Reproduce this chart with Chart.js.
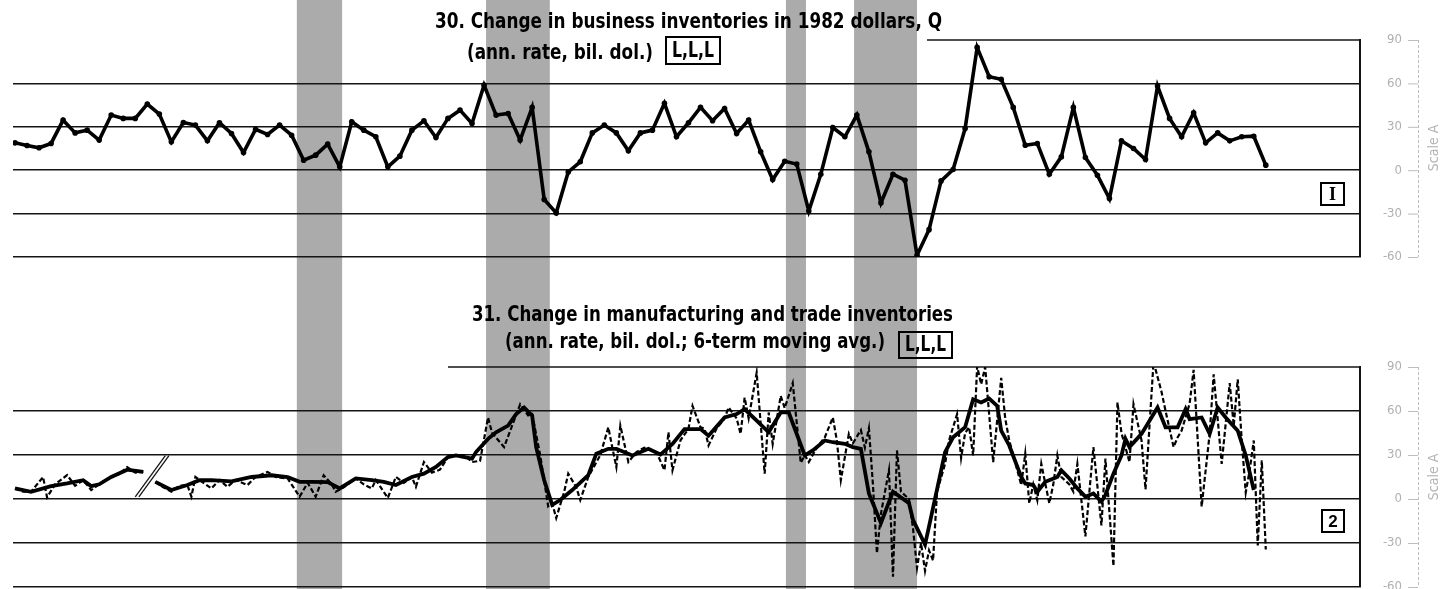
<!DOCTYPE html>
<html><head><meta charset="utf-8">
<script src="https://cdn.jsdelivr.net/npm/chart.js@4.4.1/dist/chart.umd.min.js"></script>
<style>
html,body{margin:0;padding:0;background:#fff;}
#wrap{position:relative;width:1456px;height:589px;overflow:hidden;background:#fff;}
canvas{position:absolute;left:0;}
.t{position:absolute;font-family:"Liberation Sans Narrow","DejaVu Sans Condensed","Liberation Sans",Arial,sans-serif;font-weight:bold;color:#000;white-space:nowrap;line-height:1;transform-origin:0 0;font-size:22px;}
.box{position:absolute;border:2px solid #000;box-sizing:border-box;font-weight:bold;color:#000;line-height:1;}
.ctr{display:flex;align-items:center;justify-content:center;}
.sc{position:absolute;font-family:"Liberation Sans Narrow","DejaVu Sans Condensed",sans-serif;font-size:14px;color:#b4b4b4;white-space:nowrap;transform:translate(-50%,-50%) rotate(-90deg);}
</style></head>
<body><div id="wrap">
<canvas id="cTop" width="1456" height="265" style="top:0"></canvas>
<canvas id="cBot" width="1456" height="324" style="top:265px"></canvas>
<div class="t" data-w="507" style="left:435px;top:10px">30. Change in business inventories in 1982 dollars, Q</div>
<div class="t" data-w="186" style="left:467px;top:41px">(ann. rate, bil. dol.)</div>
<div class="box" style="left:665px;top:36px;width:56px;height:29px;"></div>
<div class="t" data-w="42" style="left:672px;top:39px;font-size:22px">L,L,L</div>
<div class="t" data-w="481" style="left:472px;top:303px">31. Change in manufacturing and trade inventories</div>
<div class="t" data-w="380" style="left:505px;top:330px">(ann. rate, bil. dol.; 6-term moving avg.)</div>
<div class="box" style="left:898px;top:331px;width:55px;height:28px;"></div>
<div class="t" data-w="41" style="left:905px;top:334px;font-size:21px">L,L,L</div>
<div class="box ctr" style="left:1320px;top:182px;width:25px;height:24px;font-family:'Liberation Serif','DejaVu Serif',serif;font-size:18px;">I</div>
<div class="box ctr" style="left:1321px;top:509px;width:24px;height:24px;font-family:'Liberation Sans Narrow','Liberation Sans',sans-serif;font-size:17px;">2</div>
<div class="sc" style="left:1433px;top:148px">Scale A</div>
<div class="sc" style="left:1433px;top:477px">Scale A</div>
</div>
<script>
// ---- data (months counted from Jan 1964 = 0) ----
const recessions = [[71.3, 82.6], [118.5, 134.4], [193.3, 198.3], [210.3, 226]];
const scaleTicks = [90, 60, 30, 0, -30, -60];
const scaleLabels = ['90', '60', '30', '0', '-30', '-60'];

// Series 30: quarterly, first quarter 1964 Q1 (plotted at middle month)
const s30 = [18.9,17.1,15.5,18.5,34.6,25.8,27.7,20.8,38.1,35.8,35.8,45.7,38.8,19.6,33,31.2,20.3,32.8,25.4,12.2,
  28.2,24.7,31.2,24.2,6.9,10.4,18,2.3,33.5,27.7,23.1,2.3,9.7,27.7,34.2,22.6,35.8,41.5,32.3,58.8,
  38.1,39.2,20.8,43.4,-20.3,-29.5,-1.2,5.8,25.8,31.2,25.8,13.4,25.8,27.7,46.2,23.1,32.8,43.4,34.2,42.7,
  25.4,34.6,12.7,-6.5,6.2,4.2,-28.2,-2.8,29.5,23.1,38.1,12.7,-22.6,-2.8,-6.9,-58.8,-41.1,-7.4,0.5,28.8,
  84.9,64.6,62.8,43.4,17.3,18.5,-2.8,9.2,43.4,8.8,-3.5,-19.6,20.3,15.0,7.4,58.2,35.8,23.1,39.7,18.9,
  25.8,20.3,23.1,23.5,3.5];

// Series 31: 6-term moving average (month, value); null marks the series break
const maMonths = [1,5,10,14,18,20,22,25,29,33,34,36,40,44,47,50,55,60,65,69,72,75,79,82,86,90,93,96,100,103,
  106,109,111,115,116,119,121,124,126,128,130,131,133,135,137,140,144,146,149,151,155,159,162,165,168,172,174,178,181,183,
  186,189,192,194,198,200,203,205,208,210,212,214,217,220,224,225,228,229,233,235,238,240,242,244,246,247,249,252,253,255,
  256,258,261,262,264,266,268,270,272,273,275,277,278,279,282,284,286,288,291,293,294,297,299,301,303,306,308,310];
const maValues = [7.2,4.9,8.8,10.6,12.8,8.8,10,15,20,18.5,null,11.7,6.1,9.5,12.8,12.8,12,15,16.2,15,
  11.7,11.7,11.5,7.2,14,12.8,11.7,9.5,15,17.3,21.8,28.6,29.7,27.5,32,41,45.5,50,57.9,62.4,
  56.8,35.4,12.8,-4,-0.7,6.1,16.2,30.9,34.2,34.2,29.7,34.2,30.3,37.6,47.7,47.7,43.2,55.6,57.9,61.3,
  53.4,45.5,59,59,29.7,33.1,39.9,38.7,37.6,35.4,34.2,3.8,-16.4,4.9,-2.9,-14.2,-31.1,-18.7,32,42.1,
  48.9,68,65.8,68.5,63.5,46.6,36.5,15,10.6,9.5,4.9,11.7,15,19.6,14,7.2,1.6,3.8,-1.8,2.7,
  17.3,29.7,41,35.4,44.4,53.4,62.4,48.9,48.9,61.3,54.5,55.6,44.4,62.4,55.6,46.6,29.7,6.1];

// Series 31: monthly values [month, value]
const rawMonthly = [[1,7.2],[3,5],[5,4.9],[8,15],[9,1.1],[11,10],[14,16.3],[16,9],[18,12.8],[20,6.1],[22,10],[25,15],[27,17],[29,21.8],[31,18],[33,18.5],[34,null],
  [36,11.7],[38,8],[40,5],[42,9],[44,9.5],[45,1.6],[46,15],[48,11],[50,7.2],[52,13],[54,8.3],[56,13],[59,9.5],[61,15],[64,18.5],[66,15],[69,14],[72,1.6],[74,11],
  [76,1.6],[78,16.2],[80,10],[81,4.9],[83,8],[86,14],[88,10],[90,7.2],[91,13],[94,0.7],[96,15],[98,11],[100,15],[101,8.3],[103,25.2],[105,18],[107,20],[109,28.6],
  [111,29.7],[113,30],[115,25.2],[117,26],[119,55.6],[120,45],[123,35.4],[125,50],[127,64.6],[129,57],[130,57.9],[132,30],[134,-5],[135,-3],[136,-13],[138,5],
  [139,17.3],[141,8],[142,-0.7],[144,15],[146,25],[147,30],[149,48.9],[150,35],[151,21.8],[152,50],[154,25.2],[156,32],[158,35],[161,32],[163,19.6],[164,45.5],
  [165,19.6],[167,40],[169,48],[170,63.5],[172,48.9],[173,48],[174,36.5],[176,48],[178,55],[179,62.4],[181,55],[182,44.4],[183,69.1],[184,55],[186,86],[188,17.3],
  [189,59],[190,37.6],[192,70.3],[193,62],[195,79],[197,24.6],[198,30],[199,25.2],[201,35],[203,42],[205,55.6],[206,40],[207,12.8],[209,44.4],[210,38],[212,47],
  [213,35],[214,48.3],[215,10],[216,-37],[217,-10],[219,19.6],[220,-53],[221,33.1],[222,5],[224,0],[225,-20],[226,-47],[227,-30],[228,-49],[229,-35],[230,-42],
  [231,5],[233,24],[234,40],[236,57.9],[237,28],[238,45],[239,48.9],[240,29.7],[241,90.5],[242,78.2],[243,90],[245,25.2],[247,82.6],[248,55],[249,40],[250,30],
  [252,9.5],[253,30.9],[254,-2.9],[255,10],[256,-0.7],[257,24],[259,-2.9],[260,10],[261,29.7],[262,15],[264,10],[265,5],[266,24],[268,-25.5],[270,35.4],[272,-18],
  [273,27.5],[275,-45.7],[276,65.8],[277,45],[279,25.2],[280,64.6],[282,40],[283,6.6],[285,93.5],[287,73],[288,60],[290,35.4],[291,42],[292,46.6],[294,65],[295,88],
  [297,-5.2],[299,44.4],[300,85],[302,24],[304,79],[305,50],[306,81.6],[307,40],[308,4.4],[309,20],[310,39.9],[311,-31.6],[312,26.3],[313,-34.4]];

// ---- helpers ----
const ink = '#141414';
const decor = {
  id: 'decor',
  beforeDraw(chart, args, o) {
    const {ctx, scales: {x}} = chart;
    ctx.save();
    ctx.fillStyle = '#ababab';
    recessions.forEach(([a, b]) => {
      const x1 = x.getPixelForValue(a), x2 = x.getPixelForValue(b);
      ctx.fillRect(x1, 0, x2 - x1, chart.height);
    });
    ctx.restore();
  },
  beforeDatasetsDraw(chart, args, o) {
    const {ctx, chartArea, scales: {x, y}} = chart;
    ctx.save();
    ctx.strokeStyle = ink; ctx.lineWidth = 1.6;
    const yy = y.getPixelForValue(90);
    ctx.beginPath();
    ctx.moveTo(x.getPixelForValue(o.topLineFrom), yy);
    ctx.lineTo(chartArea.right, yy);
    ctx.stroke();
    ctx.restore();
  },
  afterDatasetsDraw(chart, args, o) {
    if (!o.breakMark) return;
    const {ctx, scales: {x, y}} = chart;
    const b = o.breakMark;
    ctx.save();
    ctx.strokeStyle = ink; ctx.lineWidth = 1.3;
    [0, 3.6].forEach(dx => {
      ctx.beginPath();
      ctx.moveTo(x.getPixelForValue(b[0]) + dx, y.getPixelForValue(b[1]));
      ctx.lineTo(x.getPixelForValue(b[2]) + dx, y.getPixelForValue(b[3]));
      ctx.stroke();
    });
    ctx.restore();
  },
  afterDraw(chart, args, o) {
    const {ctx, chartArea, scales: {y}} = chart;
    const r = chartArea.right;
    ctx.save();
    ctx.font = '13px "Liberation Sans Narrow","DejaVu Sans Condensed",sans-serif';
    ctx.fillStyle = '#b0b0b0';
    ctx.textAlign = 'right'; ctx.textBaseline = 'middle';
    ctx.strokeStyle = '#bdbdbd'; ctx.lineWidth = 1;
    scaleTicks.forEach((v, i) => {
      const yy = y.getPixelForValue(v);
      ctx.fillText(scaleLabels[i], r + 42, yy);
      ctx.beginPath(); ctx.moveTo(r + 48, yy + 0.5); ctx.lineTo(r + 58, yy + 0.5); ctx.stroke();
    });
    ctx.setLineDash([3, 2]);
    ctx.beginPath();
    ctx.moveTo(r + 58.5, y.getPixelForValue(90));
    ctx.lineTo(r + 58.5, y.getPixelForValue(-60));
    ctx.stroke();
    ctx.restore();
  }
};

function baseOptions(pad, topLineFrom, breakMark) {
  return {
    responsive: false, animation: false, devicePixelRatio: 1,
    layout: {padding: {left: 13, right: 0, top: pad.top, bottom: pad.bottom}},
    plugins: {legend: {display: false}, tooltip: {enabled: false}, decor: {topLineFrom, breakMark}},
    elements: {line: {tension: 0}},
    scales: {
      x: {type: 'linear', min: 0.5, max: 336.5, display: false},
      y: {
        position: 'right', min: -60, max: 90,
        ticks: {display: false, stepSize: 30},
        grid: {drawTicks: false, lineWidth: 1.6,
               color: c => (c.tick && c.tick.value === 90) ? 'rgba(0,0,0,0)' : ink},
        border: {display: true, color: ink, width: 2},
        afterFit: s => { s.width = 96; }
      }
    }
  };
}

new Chart(document.getElementById('cTop'), {
  type: 'line',
  data: {datasets: [{
    data: s30.map((v, i) => ({x: 1 + 3 * i, y: v})),
    borderColor: '#000', borderWidth: 3.6,
    pointRadius: 2.8, pointBackgroundColor: '#000', pointBorderWidth: 0
  }]},
  options: baseOptions({top: 40, bottom: 8}, 228.5, null),
  plugins: [decor]
});

new Chart(document.getElementById('cBot'), {
  type: 'line',
  data: {datasets: [
    {data: maMonths.map((m, i) => ({x: m, y: maValues[i]})),
     borderColor: '#000', borderWidth: 3.8, pointRadius: 0, spanGaps: false},
    {data: rawMonthly.map(([m, v]) => ({x: m, y: v})),
     borderColor: '#000', borderWidth: 2.2, borderDash: [5, 2.5], pointRadius: 0, spanGaps: false}
  ]},
  options: baseOptions({top: 102, bottom: 2}, 109, [31, 1.5, 38.5, 29.5]),
  plugins: [decor]
});

function fit() {
  document.querySelectorAll('[data-w]').forEach(el => {
    el.style.transform = 'none';
    const w = el.getBoundingClientRect().width;
    if (w > 0) el.style.transform = 'scaleX(' + (el.dataset.w / w) + ')';
  });
}
fit();
if (document.fonts && document.fonts.ready) document.fonts.ready.then(fit);
</script>
</body></html>
